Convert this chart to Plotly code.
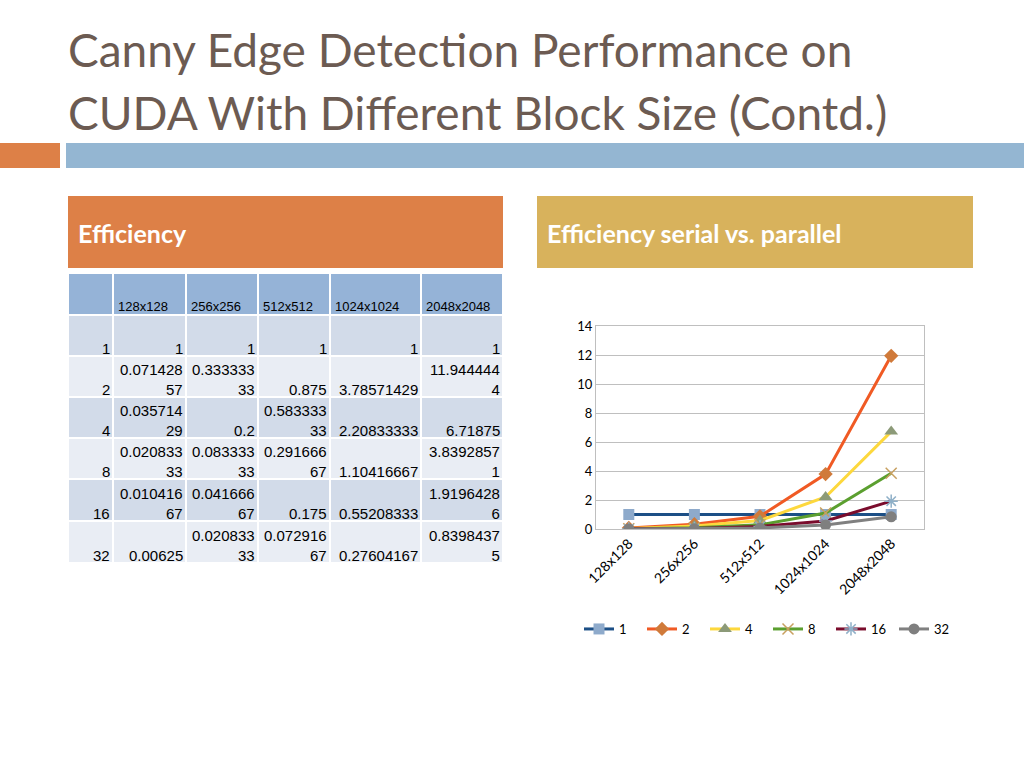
import plotly.graph_objects as go

# ---------------- data ----------------
image_sizes = ["128x128", "256x256", "512x512", "1024x1024", "2048x2048"]
block_sizes = ["1", "2", "4", "8", "16", "32"]
eff_1 = [1, 1, 1, 1, 1]
eff_2 = [0.07142857, 0.33333333, 0.875, 3.78571429, 11.9444444]
eff_4 = [0.03571429, 0.2, 0.58333333, 2.20833333, 6.71875]
eff_8 = [0.02083333, 0.08333333, 0.29166667, 1.10416667, 3.83928571]
eff_16 = [0.01041667, 0.04166667, 0.175, 0.55208333, 1.91964286]
eff_32 = [0.00625, 0.02083333, 0.07291667, 0.27604167, 0.83984375]
series = [eff_1, eff_2, eff_4, eff_8, eff_16, eff_32]

# ---------------- layout constants (pixels) ----------------
W, H = 1024, 768
def px(x):
    return x / W
def py(y):
    return 1 - y / H

col_edges = [68, 113, 186, 258, 330, 421, 503]      # table column borders
row_edges = [273, 315, 356, 397, 438, 479, 521, 563]  # table row borders
col_caps = [8, 8, 8, 10, 9]                           # characters per line

fig = go.Figure()

# ---------------- table (heatmap cells on a hidden pixel axis) ----------------
n_rows = len(block_sizes) + 1
n_cols = len(image_sizes) + 1
band = []
for r in range(n_rows):
    v = 0 if r == 0 else (1 if r % 2 == 1 else 2)
    band.append([v] * n_cols)

fig.add_trace(go.Heatmap(
    z=band, x=col_edges, y=row_edges, xaxis="x2", yaxis="y2",
    zmin=0, zmax=2, showscale=False, hoverinfo="skip", xgap=2, ygap=2,
    colorscale=[[0, "#95b3d7"], [0.5, "#d2dbe9"], [1, "#e9edf4"]],
))

def wrap(s, cap):
    if len(s) <= cap:
        return s
    return s[:cap] + "<br>" + s[cap:]

cell_font = dict(family="Liberation Sans, Arial", size=15, color="black")
head_font = dict(family="Liberation Sans, Arial", size=13, color="black")
annotations = []
for j, name in enumerate(image_sizes):
    annotations.append(dict(text=name, x=col_edges[j + 1] + 3, y=row_edges[1], xref="x2", yref="y2",
                            xanchor="left", yanchor="bottom", align="left", yshift=-1,
                            showarrow=False, font=head_font))
for i, (b, s) in enumerate(zip(block_sizes, series)):
    texts = [b] + [wrap(f"{v:.10g}", cap) for v, cap in zip(s, col_caps)]
    for j, t in enumerate(texts):
        annotations.append(dict(text=t, x=col_edges[j + 1] - 1, y=row_edges[i + 2], xref="x2", yref="y2",
                                xanchor="right", yanchor="bottom", align="right", yshift=-3,
                                showarrow=False, font=cell_font))

# ---------------- chart ----------------
styles = [
    dict(line="#1c4f86", marker=dict(symbol="square", color="#8eaacb", size=11)),
    dict(line="#f05a24", marker=dict(symbol="diamond", color="#d07a3a", size=11)),
    dict(line="#fdd83d", marker=dict(symbol="triangle-up", color="#8c9a78", size=12)),
    dict(line="#5b9f2f", marker=dict(symbol="x-thin", color="#c8a060", size=11,
                                      line=dict(color="#c8a060", width=1.5))),
    dict(line="#7a0c2c", marker=dict(symbol="asterisk", color="#8fb0c8", size=11,
                                      line=dict(color="#8fb0c8", width=1.5))),
    dict(line="#808080", marker=dict(symbol="circle", color="#7f7f7f", size=11)),
]
for name, vals, st in zip(block_sizes, series, styles):
    fig.add_trace(go.Scatter(
        x=image_sizes, y=vals, name=name, mode="lines+markers",
        line=dict(color=st["line"], width=3), marker=st["marker"],
        xaxis="x", yaxis="y",
    ))

tick_font = dict(family="Lato", size=13, color="black")
fig.update_layout(
    width=W, height=H, autosize=False,
    margin=dict(l=0, r=0, t=0, b=0, pad=0, autoexpand=False),
    paper_bgcolor="white", plot_bgcolor="rgba(0,0,0,0)",
    xaxis=dict(domain=[px(596), px(924)], anchor="y", type="category", automargin=False,
               range=[-0.5, 4.5], tickangle=-45, showgrid=False,
               showline=True, linecolor="#bfbfbf", linewidth=1, mirror=True,
               ticks="", tickfont=dict(family="Lato", size=14, color="black"), fixedrange=True),
    yaxis=dict(domain=[py(529), py(326)], anchor="x", range=[0, 14], dtick=2, automargin=False,
               showgrid=True, gridcolor="#bfbfbf", gridwidth=1,
               showline=True, linecolor="#bfbfbf", linewidth=1, mirror=True,
               zeroline=False, ticks="", tickfont=tick_font, fixedrange=True),
    xaxis2=dict(domain=[px(col_edges[0]), px(col_edges[-1])], anchor="y2", automargin=False,
                range=[col_edges[0], col_edges[-1]], visible=False, fixedrange=True),
    yaxis2=dict(domain=[py(row_edges[-1]), py(row_edges[0])], anchor="x2", automargin=False,
                range=[row_edges[-1], row_edges[0]], visible=False, fixedrange=True),
    showlegend=True,
    legend=dict(orientation="h", x=px(768), xanchor="center", y=py(629), yanchor="middle",
                font=dict(family="Lato", size=13, color="black"),
                bgcolor="rgba(0,0,0,0)", itemwidth=30, entrywidth=18),
)

# ---------------- decorations ----------------
shapes = [
    dict(type="rect", xref="paper", yref="paper", x0=px(-5), x1=px(60), y0=py(168), y1=py(143),
         fillcolor="#dd8047", line=dict(width=0), layer="below"),
    dict(type="rect", xref="paper", yref="paper", x0=px(66), x1=px(1030), y0=py(168), y1=py(143),
         fillcolor="#94b6d2", line=dict(width=0), layer="below"),
    dict(type="rect", xref="paper", yref="paper", x0=px(68), x1=px(503), y0=py(268), y1=py(196),
         fillcolor="#dd8047", line=dict(width=0), layer="below"),
    dict(type="rect", xref="paper", yref="paper", x0=px(537), x1=px(973), y0=py(268), y1=py(196),
         fillcolor="#d8b25c", line=dict(width=0), layer="below"),
]
fig.update_layout(shapes=shapes)

title_font = dict(family="Lato", size=46, color="#6c5b52")
head_box_font = dict(family="Lato", size=25, color="white")
annotations += [
    dict(text="Canny Edge Detection Performance on", x=px(66), y=py(50), xanchor="left",
         yanchor="middle", font=title_font),
    dict(text="CUDA With Different Block Size (Contd.)", x=px(66), y=py(113), xanchor="left",
         yanchor="middle", font=title_font),
    dict(text="<b>Efficiency</b>", x=px(76), y=py(233), xanchor="left", yanchor="middle",
         font=head_box_font),
    dict(text="<b>Efficiency serial vs. parallel</b>", x=px(545), y=py(233), xanchor="left",
         yanchor="middle", font=head_box_font),
]
for a in annotations:
    if "xref" not in a:
        a.update(xref="paper", yref="paper", showarrow=False)
fig.update_layout(annotations=annotations)

fig.write_html("out.html", config={"displayModeBar": False, "staticPlot": True},
               post_script="document.body.style.margin='0';")
